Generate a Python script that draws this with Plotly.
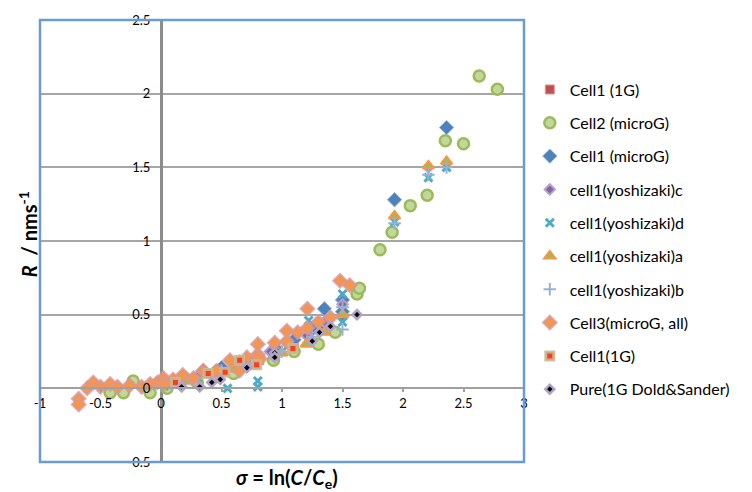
import plotly.graph_objects as go

# ---------------- data ----------------
c1_1g_x = [0.20, 0.50, 0.80, 1.10, 1.35]
c1_1g_y = [0.06, 0.13, 0.20, 0.30, 0.42]

c2_micro_x = [-0.42, -0.31, -0.23, -0.09, 0.05, 0.30, 0.60, 0.93, 1.10, 1.30, 1.44, 1.62, 1.64,
              1.81, 1.91, 2.06, 2.20, 2.35, 2.50, 2.63, 2.78]
c2_micro_y = [-0.03, -0.03, 0.05, -0.03, 0.00, 0.04, 0.10, 0.19, 0.25, 0.30, 0.38, 0.64, 0.68,
              0.94, 1.06, 1.24, 1.31, 1.68, 1.66, 2.12, 2.03]

c1_micro_x = [0.05, 0.20, 0.35, 0.50, 0.65, 0.80, 0.95, 1.10, 1.25, 1.35, 1.50, 1.50, 1.93, 2.36]
c1_micro_y = [0.03, 0.07, 0.12, 0.14, 0.18, 0.22, 0.27, 0.33, 0.40, 0.54, 0.60, 0.52, 1.28, 1.77]

yc_x = [0.10, 0.30, 0.45, 0.60, 0.75, 0.90, 1.05, 1.20, 1.35, 1.50, 1.50, 2.21]
yc_y = [0.04, 0.08, 0.12, 0.15, 0.19, 0.25, 0.30, 0.36, 0.45, 0.57, 0.48, 1.50]

yd_x = [0.30, 0.55, 0.80, 0.80, 1.00, 1.22, 1.50, 1.50, 1.93, 2.21, 2.36]
yd_y = [0.07, 0.00, 0.01, 0.05, 0.25, 0.46, 0.64, 0.45, 1.13, 1.43, 1.50]

ya_x = [0.20, 0.40, 0.60, 0.80, 1.00, 1.20, 1.35, 1.50, 1.93, 2.21, 2.36]
ya_y = [0.05, 0.09, 0.13, 0.18, 0.24, 0.30, 0.38, 0.50, 1.17, 1.51, 1.54]

yb_x = [0.25, 0.50, 0.75, 1.00, 1.25, 1.50, 1.50, 1.93, 2.21, 2.36]
yb_y = [0.06, 0.12, 0.17, 0.25, 0.35, 0.55, 0.40, 1.12, 1.45, 1.50]

c3_x = [-0.68, -0.68, -0.61, -0.56, -0.50, -0.42, -0.36, -0.26, -0.16, -0.09, -0.03, 0.02, 0.03,
        0.10, 0.18, 0.27, 0.35, 0.46, 0.57, 0.65, 0.71, 0.80, 0.80, 0.82, 0.94, 1.04, 1.04, 1.13,
        1.21, 1.21, 1.30, 1.40, 1.48, 1.56]
c3_y = [-0.07, -0.11, 0.00, 0.04, 0.01, 0.03, 0.01, 0.02, 0.01, 0.03, 0.04, 0.07, 0.03,
        0.06, 0.09, 0.07, 0.12, 0.12, 0.19, 0.12, 0.21, 0.30, 0.23, 0.20, 0.31, 0.32, 0.39, 0.38,
        0.54, 0.41, 0.45, 0.48, 0.73, 0.70]

c1b_x = [0.12, 0.39, 0.53, 0.65, 0.79, 1.09]
c1b_y = [0.04, 0.10, 0.11, 0.19, 0.16, 0.27]

pure_x = [0.17, 0.32, 0.42, 0.49, 0.71, 0.94, 0.94, 1.25, 1.31, 1.40, 1.62]
pure_y = [0.01, 0.01, 0.04, 0.06, 0.14, 0.24, 0.21, 0.32, 0.38, 0.42, 0.50]

x_ticks = [-1, -0.5, 0, 0.5, 1, 1.5, 2, 2.5, 3]
y_ticks = [-0.5, 0, 0.5, 1, 1.5, 2, 2.5]

# ---------------- figure ----------------
fig = go.Figure()

def add(name, x, y, symbol, color, size, lcolor, lwidth, opacity=1.0):
    fig.add_trace(go.Scatter(
        x=x, y=y, mode="markers", name=name, legendgroup=name,
        marker=dict(symbol=symbol, color=color, size=size, opacity=opacity,
                    line=dict(color=lcolor, width=lwidth)),
        cliponaxis=False))

add("Cell1 (1G)", c1_1g_x, c1_1g_y, "square", "#C0504D", 9, "#D99694", 1)
add("Cell2 (microG)", c2_micro_x, c2_micro_y, "circle", "#C3D69B", 11, "#9BBB59", 2.5)
add("Cell1 (microG)", c1_micro_x, c1_micro_y, "diamond", "#4F81BD", 11, "#95B3D7", 1)
add("cell1(yoshizaki)c", yc_x, yc_y, "diamond", "#8064A2", 8, "#B3A2C7", 2)
add("cell1(yoshizaki)d", yd_x, yd_y, "x-thin", "#4BACC6", 8, "#4BACC6", 3)
add("cell1(yoshizaki)a", ya_x, ya_y, "triangle-up", "#9BBB59", 10, "#F79646", 2)
add("cell1(yoshizaki)b", yb_x, yb_y, "cross-thin", "#95B3D7", 9, "#95B3D7", 2)
add("Cell3(microG, all)", c3_x, c3_y, "diamond", "#F79646", 10, "rgba(217,150,148,0.8)", 2.5)
add("Cell1(1G)", c1b_x, c1b_y, "square", "#FF3B1F", 8, "rgba(196,189,151,0.9)", 3)
add("Pure(1G Dold&Sander)", pure_x, pure_y, "diamond", "#000000", 7, "#B3A2C7", 2.5)

font_family = "Lato"

fig.update_layout(
    width=752, height=492,
    margin=dict(l=40, r=228, t=16, b=30),
    paper_bgcolor="white", plot_bgcolor="white",
    font=dict(family=font_family, color="black", size=13),
    xaxis=dict(
        range=[-1, 3], tickmode="array", tickvals=x_ticks, ticktext=[f"{v:g}" for v in x_ticks],
        anchor="free", position=0.5 / 3.0,
        showgrid=False, showline=True, linecolor="#A0A0A0", linewidth=2,
        ticks="outside", ticklen=3, tickcolor="#A0A0A0", tickwidth=1.5,
        zeroline=True, zerolinecolor="#8C8C8C", zerolinewidth=3,
        tickfont=dict(size=13, color="black"),
    ),
    yaxis=dict(
        range=[-0.5, 2.5], tickmode="array", tickvals=y_ticks, ticktext=[f"{v:g}" for v in y_ticks],
        anchor="free", position=0.25,
        showgrid=True, gridcolor="#A6A6A6", gridwidth=1.5,
        zeroline=False, showline=False, ticks="outside", ticklen=8, tickcolor="rgba(0,0,0,0)",
        tickfont=dict(size=13, color="black"),
    ),
    legend=dict(
        x=1.012, y=0.881, xanchor="left", yanchor="top",
        font=dict(size=16),
        tracegroupgap=9.5, traceorder="grouped", itemwidth=30,
        bgcolor="rgba(0,0,0,0)",
    ),
    shapes=[dict(type="rect", xref="paper", yref="paper", x0=0, x1=1, y0=0, y1=1,
                 line=dict(color="#6A9BD1", width=2.5), layer="above")],
    annotations=[
        dict(text="<b><i>R</i>  / nms<sup>-1</sup></b>", xref="paper", yref="paper",
             x=-0.025, y=0.515, textangle=-90, showarrow=False,
             font=dict(size=20), xanchor="center", yanchor="middle"),
        dict(text="<b><i>σ</i> = ln(<i>C</i>/<i>C</i><sub>e</sub>)</b>", xref="paper", yref="paper",
             x=0.51, y=-0.038, showarrow=False,
             font=dict(size=20), xanchor="center", yanchor="middle"),
    ],
)

fig.write_html("out.html")
